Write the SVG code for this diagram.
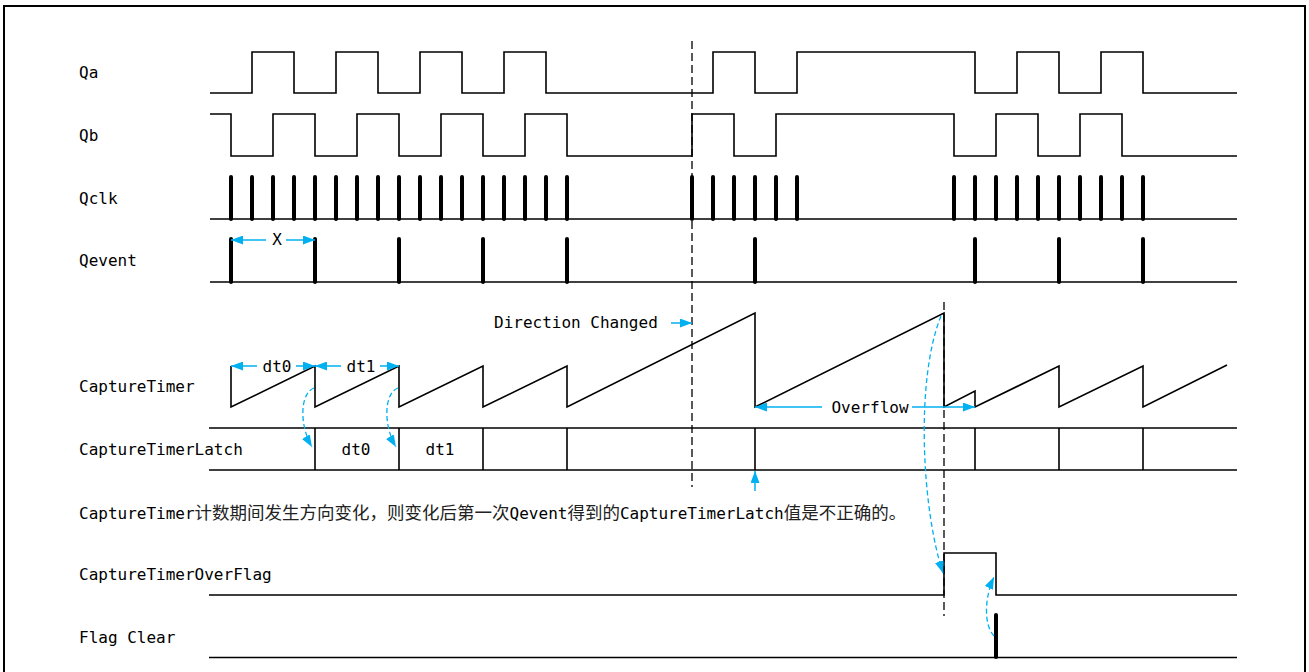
<svg xmlns="http://www.w3.org/2000/svg" width="1309" height="672" viewBox="0 0 1309 672">
<defs>
<marker id="ah" markerUnits="userSpaceOnUse" markerWidth="12" markerHeight="9" refX="12" refY="4.5" orient="auto"><path d="M0,0 L12,4.5 L0,9 z" fill="#00B0F0"/></marker>
<style>
.w{fill:none;stroke:#000;stroke-width:1.6}
.tk{fill:none;stroke:#000;stroke-width:4;stroke-linecap:round}
.lb{font-family:"DejaVu Sans Mono","Liberation Mono",monospace;font-size:16px;fill:#000}
.cj{font-family:"Noto Sans CJK SC",sans-serif;font-size:17.5px;fill:#222}
.bl{stroke:#00B0F0;stroke-width:1.5;fill:none;marker-end:url(#ah)}
.bd{stroke:#00B0F0;stroke-width:1.3;fill:none;stroke-dasharray:5 3;marker-end:url(#ah)}
.dl{fill:none;stroke:#000;stroke-width:1.3;stroke-dasharray:8 4}
</style>
</defs>
<rect width="1309" height="672" fill="#fff"/>
<path d="M4,690 V6 H1305 V690" fill="none" stroke="#000" stroke-width="2"/>

<g id="qa">
<text class="lb" x="79" y="78">Qa</text>
<path class="w" d="M210,93 H252 V52 H294 V93 H336 V52 H378 V93 H420 V52 H462 V93 H504 V52 H546 V93 H713 V52 H755 V93 H797 V52 H975 V93 H1017 V52 H1059 V93 H1101 V52 H1143 V93 H1237"/>
</g>
<g id="qb">
<text class="lb" x="79" y="141">Qb</text>
<path class="w" d="M210,114 H231 V156 H273 V114 H315 V156 H357 V114 H399 V156 H441 V114 H483 V156 H525 V114 H567 V156 H692 V114 H734 V156 H776 V114 H954 V156 H996 V114 H1038 V156 H1080 V114 H1122 V156 H1237"/>
</g>
<g id="qclk">
<text class="lb" x="79" y="204">Qclk</text>
<path class="w" d="M210,219 H1237"/>
<path class="tk" d="M231,219V177M252,219V177M273,219V177M294,219V177M315,219V177M336,219V177M357,219V177M378,219V177M399,219V177M420,219V177M441,219V177M462,219V177M483,219V177M504,219V177M525,219V177M546,219V177M567,219V177M692,219V177M713,219V177M734,219V177M755,219V177M776,219V177M797,219V177M954,219V177M975,219V177M996,219V177M1017,219V177M1038,219V177M1059,219V177M1080,219V177M1101,219V177M1122,219V177M1143,219V177"/>
</g>
<g id="qevent">
<text class="lb" x="79" y="266">Qevent</text>
<path class="w" d="M210,282 H1237"/>
<path class="tk" d="M231,282V239M315,282V239M399,282V239M483,282V239M567,282V239M755,282V239M975,282V239M1059,282V239M1143,282V239"/>
<text class="lb" x="277" y="245" text-anchor="middle">X</text>
</g>
<g id="capturetimer">
<text class="lb" x="79" y="392">CaptureTimer</text>
<path class="w" d="M231,366 V407 L315,366 V407 L399,366 V407 L483,366 V407 L567,366 V407 L755,313 V407 L944,313 V407 L975,391 V407 L1059,366 V407 L1143,366 V407 L1227,365"/>
<text class="lb" x="277" y="371.5" text-anchor="middle">dt0</text>
<text class="lb" x="361" y="371.5" text-anchor="middle">dt1</text>
<text class="lb" x="494" y="328">Direction Changed</text>
<text class="lb" x="870" y="413" text-anchor="middle">Overflow</text>
</g>
<g id="latch">
<text class="lb" x="79" y="455">CaptureTimerLatch</text>
<path class="w" d="M209,428 H1237 M209,470 H1237 M315,428 V470 M399,428 V470 M483,428 V470 M567,428 V470 M755,428 V470 M975,428 V470 M1059,428 V470 M1143,428 V470"/>
<text class="lb" x="356" y="455" text-anchor="middle">dt0</text>
<text class="lb" x="440" y="455" text-anchor="middle">dt1</text>
</g>
<g id="note">
<text class="lb" x="79" y="519">CaptureTimer<tspan class="cj">计数期间发生方向变化，则变化后第一次</tspan>Qevent<tspan class="cj">得到的</tspan>CaptureTimerLatch<tspan class="cj">值是不正确的。</tspan></text>
</g>
<g id="overflag">
<text class="lb" x="79" y="580">CaptureTimerOverFlag</text>
<path class="w" d="M209,595 H944 V553 H996 V595 H1237"/>
</g>
<g id="flagclear">
<text class="lb" x="79" y="643">Flag Clear</text>
<path class="w" d="M209,657.5 H1237"/>
<path class="tk" d="M996,657 V615"/>
</g>
<g id="markers">
<path class="dl" d="M692,41 V487"/>
<path class="dl" d="M944,302 V616"/>
</g>
<g id="connectors">
<line class="bl" x1="266" y1="240" x2="231" y2="240"/>
<line class="bl" x1="286" y1="240" x2="315" y2="240"/>
<line class="bl" x1="257" y1="366" x2="231" y2="366"/>
<line class="bl" x1="296" y1="366" x2="315" y2="366"/>
<line class="bl" x1="341" y1="366" x2="315" y2="366"/>
<line class="bl" x1="380" y1="366" x2="399" y2="366"/>
<line class="bl" x1="671" y1="323" x2="692" y2="323"/>
<line class="bl" x1="822" y1="407" x2="755" y2="407"/>
<line class="bl" x1="912" y1="407" x2="975" y2="407"/>
<line class="bl" x1="755" y1="491" x2="755" y2="471"/>
<path class="bd" d="M314,388 C300,393 299,425 312,447"/>
<path class="bd" d="M398,388 C384,393 383,425 396,447"/>
<path class="bd" d="M941,316 C915,380 922,510 943,573"/>
<path class="bd" d="M994,636 C983,624 985,596 994,577"/>
</g>
</svg>
